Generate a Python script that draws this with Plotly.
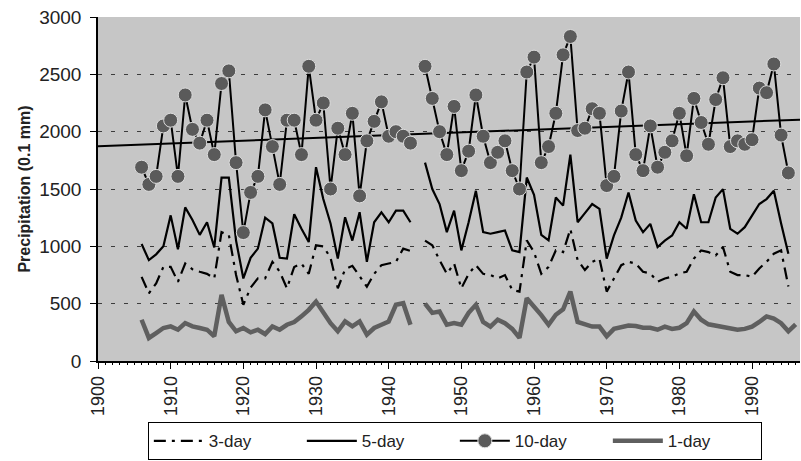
import plotly.graph_objects as go

years = list(range(1906, 1997))

ten_day = [
    1690, 1540, 1610, 2050, 2100, 1610, 2320, 2020, 1900, 2100,
    1800, 2420, 2530, 1730, 1120, 1470, 1610, 2190, 1870, 1540,
    2100, 2100, 1800, 2570, 2100, 2250, 1500, 2030, 1800, 2160,
    1440, 1920, 2090, 2260, 1960, 2000, 1960, 1900, None, 2570,
    2290, 2000, 1800, 2220, 1660, 1830, 2320, 1960, 1730, 1820,
    1920, 1660, 1500, 2520, 2650, 1730, 1870, 2160, 2670, 2830,
    2010, 2030, 2200, 2160, 1530, 1610, 2180, 2520, 1800, 1660,
    2050, 1690, 1820, 1920, 2160, 1790, 2290, 2080, 1890, 2280,
    2470, 1870, 1920, 1890, 1930, 2380, 2340, 2590, 1970, 1640,
    None,
]

five_day = [
    1020, 880, 930, 1000, 1270, 975, 1340, 1230, 1100, 1210,
    990, 1600, 1600, 1050, 720, 900, 980, 1250, 1200, 900,
    893, 1280, 1153, 1037, 1690, 1412, 1200, 893, 1254, 1050,
    1297, 865, 1210, 1297, 1210, 1311, 1311, 1210, None, 1730,
    1500, 1369, 1124, 1311, 965, 1210, 1484, 1124, 1110, 1124,
    1138, 965, 950, 1600, 1450, 1100, 1052, 1426, 1355, 1800,
    1210, 1290, 1369, 1326, 893, 1095, 1250, 1470, 1225, 1124,
    1196, 994, 1050, 1095, 1210, 1153, 1455, 1210, 1210, 1426,
    1499, 1153, 1110, 1167, 1270, 1369, 1412, 1484, 1200, 936,
    None,
]

three_day = [
    734, 590, 677, 821, 821, 691, 850, 800, 778, 760,
    721, 1124, 1100, 750, 490, 640, 721, 721, 865, 780,
    634, 820, 850, 760, 1009, 1000, 900, 634, 800, 830,
    740, 648, 760, 836, 850, 865, 980, 960, None, 1050,
    1009, 880, 760, 850, 634, 760, 836, 760, 749, 720,
    749, 620, 605, 1052, 950, 760, 820, 965, 950, 1150,
    880, 793, 865, 893, 605, 720, 836, 865, 850, 778,
    763, 691, 720, 735, 764, 778, 893, 965, 950, 920,
    994, 778, 749, 749, 735, 807, 865, 936, 965, 650,
    None,
]

one_day = [
    360, 201, 244, 288, 302, 273, 331, 302, 288, 273,
    216, 576, 340, 259, 288, 250, 273, 235, 302, 273,
    316, 340, 389, 446, 518, 420, 330, 259, 345, 302,
    345, 230, 288, 316, 345, 490, 504, 316, None, 500,
    420, 432, 316, 330, 316, 420, 490, 340, 300, 360,
    330, 280, 201, 547, 480, 400, 316, 403, 450, 605,
    340, 320, 300, 300, 216, 280, 300, 310, 305, 290,
    290, 273, 300, 280, 290, 330, 432, 360, 320, 310,
    300, 290, 273, 280, 300, 340, 389, 370, 330, 259,
    320,
]

trend_years = [1900, 1996.6]
trend_values = [1873, 2105]

x_ticks = list(range(1900, 2000, 10))
y_ticks = [0, 500, 1000, 1500, 2000, 2500, 3000]

FONT = "Liberation Sans, Arial, Helvetica, sans-serif"

fig = go.Figure()

fig.add_trace(go.Scatter(
    x=trend_years, y=trend_values, mode="lines",
    line=dict(color="black", width=2), showlegend=False, hoverinfo="skip"))

fig.add_trace(go.Scatter(
    x=years, y=one_day, mode="lines", name="1-day", legendrank=4,
    line=dict(color="#5f5f5f", width=4.5)))

fig.add_trace(go.Scatter(
    x=years, y=three_day, mode="lines", name="3-day", legendrank=1,
    line=dict(color="black", width=2.2, dash="12px,6px,3px,6px")))

fig.add_trace(go.Scatter(
    x=years, y=five_day, mode="lines", name="5-day", legendrank=2,
    line=dict(color="black", width=2.2)))

fig.add_trace(go.Scatter(
    x=years, y=ten_day, mode="lines+markers", name="10-day", legendrank=3,
    line=dict(color="black", width=2),
    marker=dict(size=14, color="#5a5a5a", line=dict(color="#dcdcdc", width=1))))

fig.update_layout(
    width=801, height=461,
    margin=dict(l=98, r=1, t=17, b=98),
    paper_bgcolor="white",
    plot_bgcolor="#c6c6c6",
    font=dict(family=FONT, color="#222222", size=17),
    legend=dict(
        orientation="h", x=0.071, y=-0.178, xanchor="left", yanchor="top",
        bordercolor="black", borderwidth=1, bgcolor="white",
        font=dict(size=17), traceorder="normal", itemwidth=50,
        entrywidth=88, tracegroupgap=0,
    ),
    xaxis=dict(
        range=[1900, 1996.6], tickvals=x_ticks, tickangle=-90,
        ticks="outside", ticklen=6, tickwidth=1.2, tickcolor="black",
        showline=True, linecolor="black", linewidth=1.5,
        showgrid=False, zeroline=False,
        minor=dict(dtick=1, ticks="outside", ticklen=2, tickcolor="black"),
        tickfont=dict(size=18),
    ),
    yaxis=dict(
        range=[0, 3000], tickvals=y_ticks,
        ticks="outside", ticklen=6, tickwidth=1.2, tickcolor="black",
        showline=True, linecolor="black", linewidth=1.5,
        showgrid=True, gridcolor="#3c3c3c", gridwidth=1, griddash="4px,9px",
        zeroline=False, ticklabelstandoff=5,
        tickfont=dict(size=19),
        title=dict(text="<b>Precipitation (0.1 mm)</b>", font=dict(size=16), standoff=5),
    ),
)

fig.write_html("out.html")
